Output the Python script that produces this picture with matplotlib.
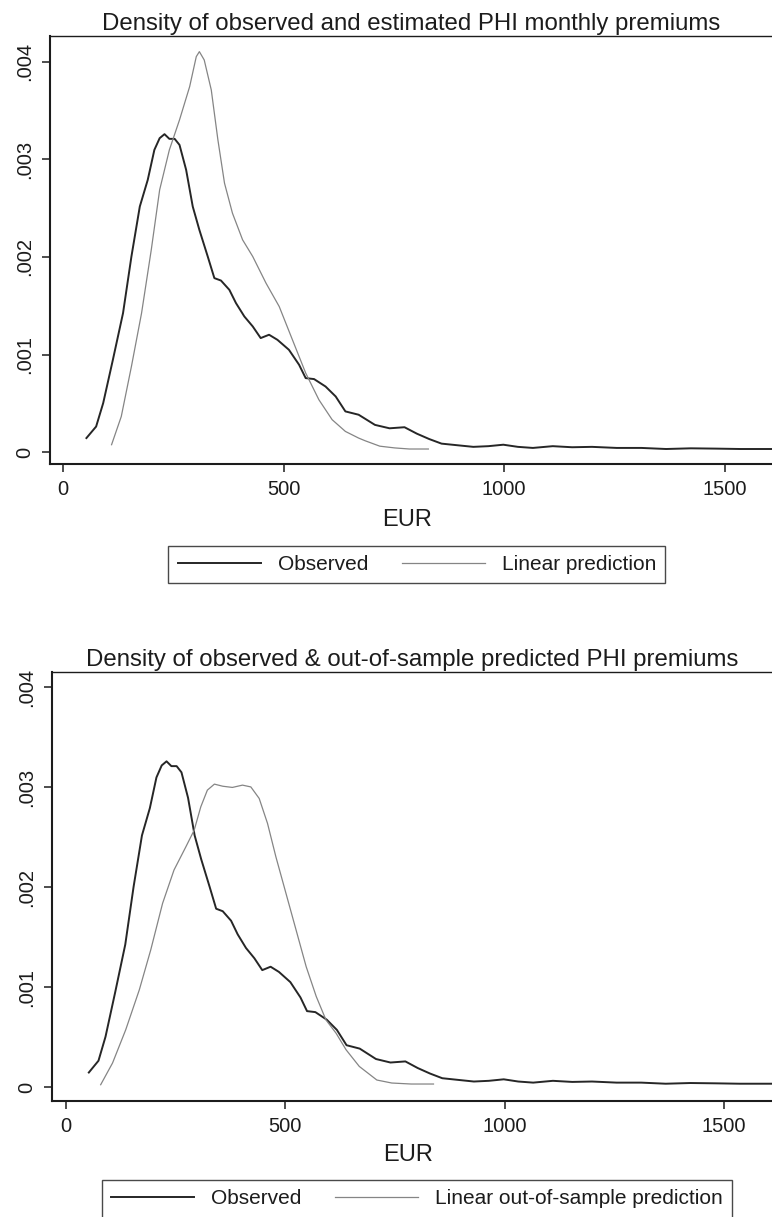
import numpy as np
import matplotlib.pyplot as plt

plt.rcParams['font.family'] = ['Liberation Sans', 'DejaVu Sans']

# observed premiums density (same curve in both panels)
obs_x = [53, 75, 91, 113, 136, 155, 174, 192, 207, 219, 230, 241, 253, 264, 279, 294,
         309, 328, 343, 358, 377, 392, 411, 430, 448, 467, 486, 512, 535, 550, 569, 595,
         618, 640, 670, 707, 740, 774, 802, 830, 858, 897, 930, 964, 998, 1031, 1065,
         1110, 1154, 1199, 1255, 1311, 1367, 1423, 1479, 1535, 1607]
obs_y = [0.000145, 0.000263, 0.000503, 0.000947, 0.001425, 0.002004, 0.002516, 0.002789,
         0.003096, 0.003216, 0.003257, 0.003209, 0.003209, 0.003147, 0.002892, 0.002516,
         0.002277, 0.002004, 0.001783, 0.001758, 0.001663, 0.001527, 0.00139, 0.001288,
         0.001169, 0.001203, 0.001151, 0.001049, 0.000896, 0.000759, 0.000749, 0.000673,
         0.000571, 0.000418, 0.000384, 0.00028, 0.000245, 0.000256, 0.00019, 0.000135,
         0.000088, 0.00007, 0.000055, 0.000062, 0.000077, 0.000055, 0.000044, 0.000062,
         0.000051, 0.000055, 0.000044, 0.000044, 0.000033, 0.00004, 0.000037, 0.000033,
         0.000033]

# linear prediction (in-sample)
pred_x = [110, 132, 155, 178, 200, 219, 241, 264, 287, 302, 309, 320, 336, 351, 366, 384,
          407, 430, 460, 490, 520, 550, 580, 610, 640, 670, 685, 718, 752, 785, 828]
pred_y = [0.000077, 0.000366, 0.000878, 0.001425, 0.002073, 0.002687, 0.003096, 0.003403,
          0.003744, 0.004051, 0.004102, 0.004017, 0.00371, 0.003199, 0.002755, 0.002448,
          0.002175, 0.002004, 0.001732, 0.001492, 0.001151, 0.000811, 0.000537, 0.000333,
          0.000213, 0.000145, 0.000117, 0.000062, 0.000044, 0.000033, 0.000033]

# linear out-of-sample prediction
oos_x = [80, 107, 137, 168, 194, 221, 247, 274, 293, 308, 323, 339, 358, 380, 403, 422,
         441, 460, 479, 502, 525, 548, 571, 593, 616, 639, 669, 709, 743, 787, 838]
oos_y = [0.000023, 0.00024, 0.000572, 0.000972, 0.001371, 0.001837, 0.00217, 0.002402,
         0.002569, 0.002802, 0.002969, 0.003029, 0.003008, 0.002996, 0.003019, 0.003001,
         0.002886, 0.002636, 0.002303, 0.001937, 0.001571, 0.001204, 0.000905, 0.000672,
         0.000539, 0.000372, 0.000206, 0.00007, 0.00004, 0.00003, 0.00003]

x_ticks = [0, 500, 1000, 1500]
y_ticks = [0, 0.001, 0.002, 0.003, 0.004]
y_labels = ['0', '.001', '.002', '.003', '.004']

ink = '#1c1c1c'
obs_color = '#262626'
pred_color = '#858585'

fig = plt.figure(figsize=(7.72, 12.17), dpi=100)

panels = [
    dict(rect=[0.0648, 0.6187, 0.9352, 0.3517], xlim=(-29.5, 1607), ylim=(-0.000121, 0.004262),
         title='Density of observed and estimated PHI monthly premiums',
         px=pred_x, py=pred_y, plabel='Linear prediction', leg_y=0.5362, lab_y=-0.106),
    dict(rect=[0.0674, 0.0953, 0.9326, 0.3525], xlim=(-30.8, 1609), ylim=(-0.00014, 0.00415),
         title='Density of observed & out-of-sample predicted PHI premiums',
         px=oos_x, py=oos_y, plabel='Linear out-of-sample prediction', leg_y=0.0148, lab_y=-0.101),
]

for p in panels:
    ax = fig.add_axes(p['rect'])
    l1, = ax.plot(obs_x, obs_y, color=obs_color, lw=1.4, label='Observed')
    l2, = ax.plot(p['px'], p['py'], color=pred_color, lw=0.9, label=p['plabel'])
    ax.set_xlim(*p['xlim'])
    ax.set_ylim(*p['ylim'])
    ax.set_xticks(x_ticks)
    ax.set_yticks(y_ticks)
    ax.set_yticklabels(y_labels, rotation=90, va='center')
    ax.tick_params(axis='both', direction='out', length=5.5, width=1.1, colors=ink,
                   labelsize=14.5, pad=6)
    ax.spines['right'].set_visible(False)
    ax.spines['top'].set_linewidth(1.0)
    ax.spines['left'].set_linewidth(1.5)
    ax.spines['bottom'].set_linewidth(1.5)
    for s in ax.spines.values():
        s.set_color(ink)
    ax.set_title(p['title'], fontsize=17.3, color=ink, pad=4)
    ax.set_xlabel('EUR', fontsize=17, color=ink)
    ax.xaxis.set_label_coords(0.495, p['lab_y'])
    leg = fig.legend(handles=[l1, l2], loc='center', bbox_to_anchor=(0.54, p['leg_y']),
                     ncol=2, fontsize=15, frameon=True, fancybox=False, handlelength=4,
                     columnspacing=1.6, handletextpad=0.8, borderpad=0.45)
    leg.get_frame().set_edgecolor(ink)
    leg.get_frame().set_linewidth(1.0)
    for t in leg.get_texts():
        t.set_color(ink)

fig.savefig('out.png', dpi=100)
